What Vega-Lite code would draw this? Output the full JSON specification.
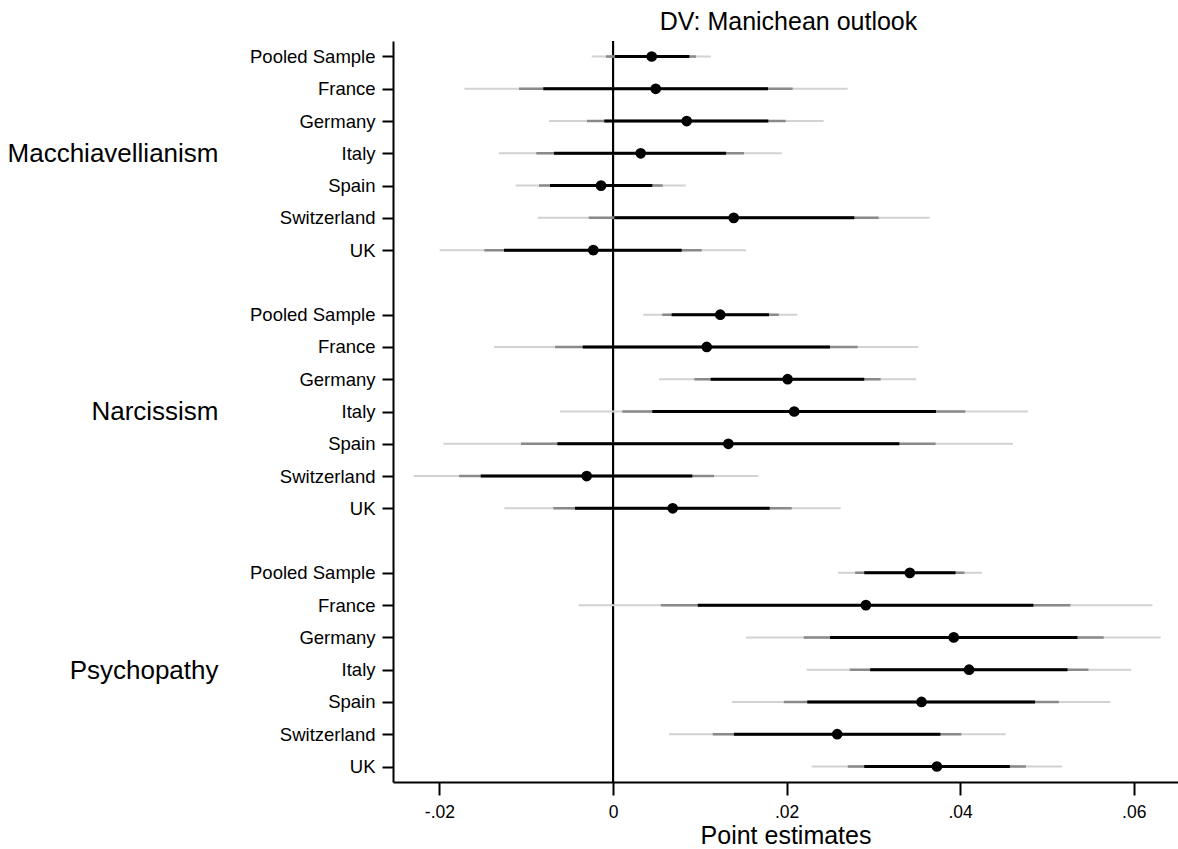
{
  "$schema": "https://vega.github.io/schema/vega-lite/v6.json",
  "autosize": "none",
  "width": 785,
  "height": 741,
  "padding": {"left": 393, "top": 41, "right": 0, "bottom": 67},
  "background": "white",
  "title": {"text": "DV: Manichean outlook", "fontSize": 25, "fontWeight": "normal", "font": "Liberation Sans", "color": "black", "anchor": "middle", "offset": 5, "dx": 3},
  "config": {
    "font": "Liberation Sans",
    "view": {"stroke": null},
    "axis": {"grid": false, "domainColor": "black", "tickColor": "black", "labelColor": "black", "titleColor": "black", "domainWidth": 2, "tickWidth": 2, "labelFont": "Liberation Sans", "titleFont": "Liberation Sans"}
  },
  "data": {"values": [
    {"group": "Macchiavellianism", "country": "Pooled Sample", "row": "Macchiavellianism|Pooled Sample", "est": 0.00446, "lo90": 0.0002, "hi90": 0.00879, "lo95": -0.00081, "hi95": 0.00956, "lo99": -0.00245, "hi99": 0.01126},
    {"group": "Macchiavellianism", "country": "France", "row": "Macchiavellianism|France", "est": 0.00492, "lo90": -0.00803, "hi90": 0.01786, "lo95": -0.01083, "hi95": 0.0207, "lo99": -0.01713, "hi99": 0.02704},
    {"group": "Macchiavellianism", "country": "Germany", "row": "Macchiavellianism|Germany", "est": 0.00849, "lo90": -0.001, "hi90": 0.01789, "lo95": -0.003, "hi95": 0.0199, "lo99": -0.00737, "hi99": 0.02427},
    {"group": "Macchiavellianism", "country": "Italy", "row": "Macchiavellianism|Italy", "est": 0.00319, "lo90": -0.0068, "hi90": 0.01302, "lo95": -0.00884, "hi95": 0.01509, "lo99": -0.01317, "hi99": 0.01943},
    {"group": "Macchiavellianism", "country": "Spain", "row": "Macchiavellianism|Spain", "est": -0.00138, "lo90": -0.00726, "hi90": 0.00453, "lo95": -0.00853, "hi95": 0.00573, "lo99": -0.01121, "hi99": 0.00837},
    {"group": "Macchiavellianism", "country": "Switzerland", "row": "Macchiavellianism|Switzerland", "est": 0.01391, "lo90": 0.00015, "hi90": 0.0278, "lo95": -0.0028, "hi95": 0.03061, "lo99": -0.00868, "hi99": 0.03649},
    {"group": "Macchiavellianism", "country": "UK", "row": "Macchiavellianism|UK", "est": -0.00227, "lo90": -0.01256, "hi90": 0.00791, "lo95": -0.01483, "hi95": 0.01022, "lo99": -0.01997, "hi99": 0.01532},
    {"group": "Narcissism", "country": "Pooled Sample", "row": "Narcissism|Pooled Sample", "est": 0.01236, "lo90": 0.00676, "hi90": 0.01797, "lo95": 0.00568, "hi95": 0.0191, "lo99": 0.00349, "hi99": 0.02124},
    {"group": "Narcissism", "country": "France", "row": "Narcissism|France", "est": 0.0108, "lo90": -0.00349, "hi90": 0.025, "lo95": -0.00668, "hi95": 0.02819, "lo99": -0.01371, "hi99": 0.03517},
    {"group": "Narcissism", "country": "Germany", "row": "Narcissism|Germany", "est": 0.02012, "lo90": 0.01125, "hi90": 0.02895, "lo95": 0.00937, "hi95": 0.03084, "lo99": 0.0053, "hi99": 0.03494},
    {"group": "Narcissism", "country": "Italy", "row": "Narcissism|Italy", "est": 0.02088, "lo90": 0.00453, "hi90": 0.03721, "lo95": 0.00107, "hi95": 0.04059, "lo99": -0.00611, "hi99": 0.04781},
    {"group": "Narcissism", "country": "Spain", "row": "Narcissism|Spain", "est": 0.01329, "lo90": -0.00641, "hi90": 0.03299, "lo95": -0.0106, "hi95": 0.03717, "lo99": -0.01955, "hi99": 0.04608},
    {"group": "Narcissism", "country": "Switzerland", "row": "Narcissism|Switzerland", "est": -0.00303, "lo90": -0.01524, "hi90": 0.00914, "lo95": -0.01774, "hi95": 0.01164, "lo99": -0.02296, "hi99": 0.01675},
    {"group": "Narcissism", "country": "UK", "row": "Narcissism|UK", "est": 0.00688, "lo90": -0.00438, "hi90": 0.01805, "lo95": -0.00688, "hi95": 0.02059, "lo99": -0.01252, "hi99": 0.02623},
    {"group": "Psychopathy", "country": "Pooled Sample", "row": "Psychopathy|Pooled Sample", "est": 0.0342, "lo90": 0.02895, "hi90": 0.03946, "lo95": 0.0279, "hi95": 0.0405, "lo99": 0.02592, "hi99": 0.04252},
    {"group": "Psychopathy", "country": "France", "row": "Psychopathy|France", "est": 0.02914, "lo90": 0.00977, "hi90": 0.04844, "lo95": 0.00552, "hi95": 0.0527, "lo99": -0.00397, "hi99": 0.06215},
    {"group": "Psychopathy", "country": "Germany", "row": "Psychopathy|Germany", "est": 0.03926, "lo90": 0.02501, "hi90": 0.05351, "lo95": 0.02198, "hi95": 0.05654, "lo99": 0.01533, "hi99": 0.0631},
    {"group": "Psychopathy", "country": "Italy", "row": "Psychopathy|Italy", "est": 0.04103, "lo90": 0.02963, "hi90": 0.05237, "lo95": 0.02728, "hi95": 0.05478, "lo99": 0.0223, "hi99": 0.05971},
    {"group": "Psychopathy", "country": "Spain", "row": "Psychopathy|Spain", "est": 0.03555, "lo90": 0.02238, "hi90": 0.04863, "lo95": 0.01968, "hi95": 0.05138, "lo99": 0.01371, "hi99": 0.05732},
    {"group": "Psychopathy", "country": "Switzerland", "row": "Psychopathy|Switzerland", "est": 0.02583, "lo90": 0.01393, "hi90": 0.03772, "lo95": 0.01149, "hi95": 0.04013, "lo99": 0.00646, "hi99": 0.04523},
    {"group": "Psychopathy", "country": "UK", "row": "Psychopathy|UK", "est": 0.03732, "lo90": 0.02895, "hi90": 0.04573, "lo95": 0.02705, "hi95": 0.04758, "lo99": 0.02289, "hi99": 0.05175}
  ]},
  "layer": [
    {
      "encoding": {
        "y": {
          "field": "row", "type": "nominal",
          "scale": {"type": "point", "padding": 0.48, "align": 0.5,
            "domain": ["Macchiavellianism|Pooled Sample", "Macchiavellianism|France", "Macchiavellianism|Germany", "Macchiavellianism|Italy", "Macchiavellianism|Spain", "Macchiavellianism|Switzerland", "Macchiavellianism|UK", "gap1",
                       "Narcissism|Pooled Sample", "Narcissism|France", "Narcissism|Germany", "Narcissism|Italy", "Narcissism|Spain", "Narcissism|Switzerland", "Narcissism|UK", "gap2",
                       "Psychopathy|Pooled Sample", "Psychopathy|France", "Psychopathy|Germany", "Psychopathy|Italy", "Psychopathy|Spain", "Psychopathy|Switzerland", "Psychopathy|UK"]},
          "axis": {
            "title": null, "orient": "left",
            "values": ["Macchiavellianism|Pooled Sample", "Macchiavellianism|France", "Macchiavellianism|Germany", "Macchiavellianism|Italy", "Macchiavellianism|Spain", "Macchiavellianism|Switzerland", "Macchiavellianism|UK",
                       "Narcissism|Pooled Sample", "Narcissism|France", "Narcissism|Germany", "Narcissism|Italy", "Narcissism|Spain", "Narcissism|Switzerland", "Narcissism|UK",
                       "Psychopathy|Pooled Sample", "Psychopathy|France", "Psychopathy|Germany", "Psychopathy|Italy", "Psychopathy|Spain", "Psychopathy|Switzerland", "Psychopathy|UK"],
            "labelExpr": "split(datum.label, '|')[1]",
            "labelFontSize": 18.5, "labelPadding": 7, "tickSize": 11, "domainWidth": 2, "labelBound": false, "labelOverlap": false, "labelLimit": 0
          }
        }
      },
      "layer": [
        {"mark": {"type": "rule", "color": "black", "strokeWidth": 2}, "encoding": {"x": {"datum": 0, "type": "quantitative"}, "y": null}},
        {"mark": {"type": "rule", "color": "#d2d2d2", "strokeWidth": 2}, "encoding": {"x": {"field": "lo99", "type": "quantitative"}, "x2": {"field": "hi99"}}},
        {"mark": {"type": "rule", "color": "#8a8a8a", "strokeWidth": 2.5}, "encoding": {"x": {"field": "lo95", "type": "quantitative"}, "x2": {"field": "hi95"}}},
        {"mark": {"type": "rule", "color": "black", "strokeWidth": 3}, "encoding": {"x": {"field": "lo90", "type": "quantitative"}, "x2": {"field": "hi90"}}},
        {"mark": {"type": "point", "filled": true, "color": "black", "opacity": 1, "size": 115},
         "encoding": {"x": {"field": "est", "type": "quantitative",
           "scale": {"domain": [-0.02535, 0.0651], "nice": false, "zero": false},
           "axis": {"title": "Point estimates", "titleFontSize": 25, "titleFontWeight": "normal", "titleBaseline": "alphabetic", "titleY": 61,
                    "values": [-0.02, 0, 0.02, 0.04, 0.06],
                    "labelExpr": "datum.value == 0 ? '0' : (datum.value < 0 ? '-' : '') + replace(format(abs(datum.value), '.2f'), '0.', '.')",
                    "labelFontSize": 17.5, "tickSize": 13, "labelPadding": 8, "domainWidth": 2}}}}
      ]
    },
    {
      "mark": {"type": "point", "opacity": 0},
      "encoding": {
        "x": {"field": "est", "type": "quantitative"},
        "y": {"field": "group", "type": "nominal",
              "scale": {"type": "point", "domain": ["Macchiavellianism", "Narcissism", "Psychopathy"], "range": [112, 629], "padding": 0},
              "axis": {"orient": "left", "title": null, "domain": false, "ticks": false, "labelPadding": 175, "labelFontSize": 26, "labelBound": false, "labelOverlap": false, "labelLimit": 0}}
      }
    }
  ],
  "resolve": {"scale": {"y": "independent"}, "axis": {"y": "independent"}}
}
